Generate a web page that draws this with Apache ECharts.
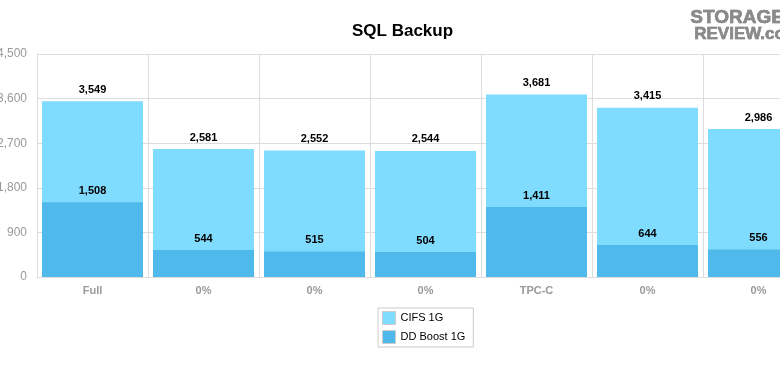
<!DOCTYPE html>
<html>
<head>
<meta charset="utf-8">
<script src="https://cdn.jsdelivr.net/npm/echarts@6/dist/echarts.min.js"></script>
<style>
  html, body { margin: 0; padding: 0; background: #fff; }
  #chart { width: 780px; height: 376px; }
</style>
</head>
<body>
<div id="chart"></div>
<script>
  const categories = ['Full', '0%', '0%', '0%', 'TPC-C', '0%', '0%']
  const cifs = [3549, 2581, 2552, 2544, 3681, 3415, 2986]
  const ddBoost = [1508, 544, 515, 504, 1411, 644, 556]
  const yTicks = { min: 0, max: 4500, interval: 900 }

  const myChart = echarts.init(document.getElementById('chart'))
  const fmt = p => p.value.toLocaleString('en-US')
  const labelStyle = {
    show: true,
    position: 'top',
    color: '#000',
    fontSize: 11,
    fontWeight: 'bold',
    fontFamily: 'Liberation Sans',
    distance: 6,
    formatter: fmt
  }

  const option = {
    animation: false,
    title: {
      text: 'SQL Backup',
      left: 347,
      top: 18,
      textStyle: { fontSize: 17, fontWeight: 'bold', color: '#000', fontFamily: 'Liberation Sans' }
    },
    graphic: [
      {
        type: 'text', left: 690, top: 8,
        style: { text: 'STORAGE', fill: '#8a8a8a', stroke: '#555', lineWidth: 0.5, font: 'bold 19px Liberation Sans' }
      },
      {
        type: 'text', left: 694, top: 26,
        style: { text: 'REVIEW.com', fill: '#8a8a8a', stroke: '#555', lineWidth: 0.5, font: 'bold 17px Liberation Sans' }
      }
    ],
    legend: {
      orient: 'vertical',
      left: 378,
      top: 308,
      padding: [3, 8, 3, 4],
      itemGap: 5,
      itemWidth: 13,
      itemHeight: 13,
      borderColor: '#ccc',
      borderWidth: 1,
      icon: 'rect',
      textStyle: { fontSize: 11, color: '#000', fontFamily: 'Liberation Sans' },
      data: [
        { name: 'CIFS 1G', itemStyle: { borderColor: '#ccc', borderWidth: 1 } },
        { name: 'DD Boost 1G', itemStyle: { borderColor: '#ccc', borderWidth: 1 } }
      ]
    },
    grid: { left: 37, right: -34, top: 54, bottom: 99, outerBoundsMode: 'none', containLabel: false },
    xAxis: {
      type: 'category',
      data: categories,
      axisLine: { lineStyle: { color: '#ddd' } },
      axisTick: { show: false },
      axisLabel: { color: '#999', fontSize: 11, fontWeight: 'bold', fontFamily: 'Liberation Sans', margin: 8 },
      splitLine: { show: true, lineStyle: { color: '#ddd' } }
    },
    yAxis: {
      type: 'value',
      min: yTicks.min,
      max: yTicks.max,
      interval: yTicks.interval,
      axisLine: { show: true, lineStyle: { color: '#ddd' } },
      axisLabel: {
        color: '#999', fontSize: 12, fontFamily: 'Liberation Sans', margin: 10,
        formatter: v => v.toLocaleString('en-US')
      },
      splitLine: { lineStyle: { color: '#ddd' } }
    },
    series: [
      {
        name: 'CIFS 1G',
        type: 'bar',
        data: cifs,
        barCategoryGap: '9%',
        barGap: '-100%',
        itemStyle: { color: '#80dcfe' },
        label: labelStyle
      },
      {
        name: 'DD Boost 1G',
        type: 'bar',
        data: ddBoost,
        barCategoryGap: '9%',
        itemStyle: { color: '#4fb9eb' },
        label: labelStyle
      }
    ]
  }
  myChart.setOption(option)
</script>
</body>
</html>
